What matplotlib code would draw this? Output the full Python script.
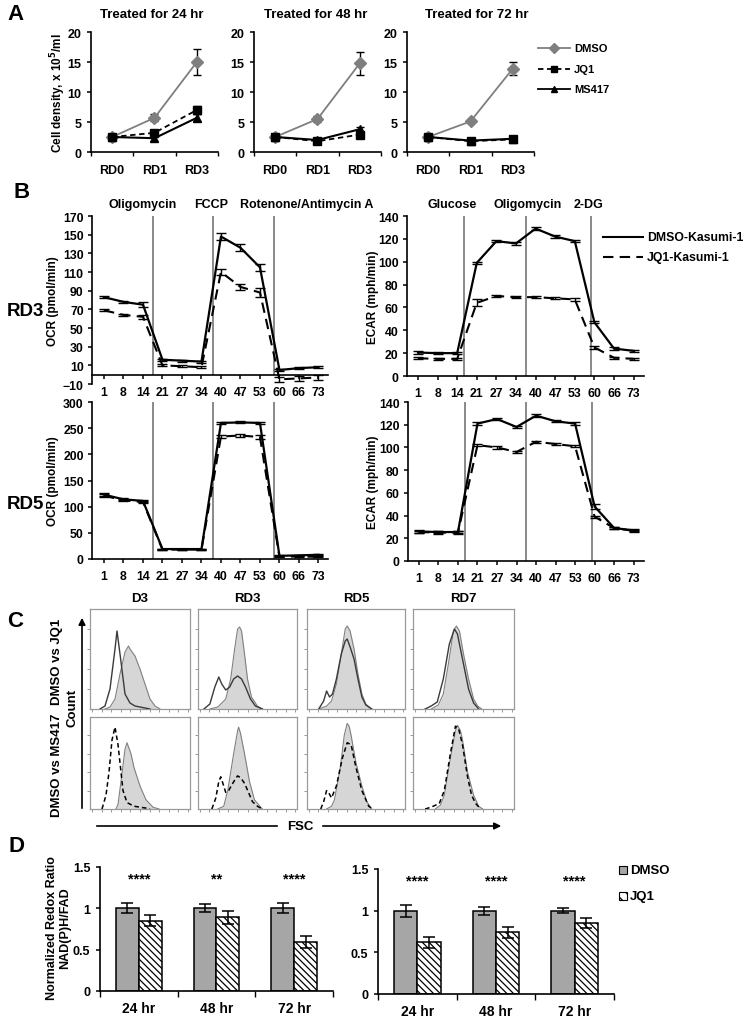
import numpy as np
import matplotlib
matplotlib.use('Agg')
import matplotlib.pyplot as plt
from matplotlib.patches import Rectangle

plt.rcParams['font.family'] = ['Liberation Sans', 'DejaVu Sans']
plt.rcParams['font.weight'] = 'bold'
plt.rcParams['hatch.linewidth'] = 0.9

W, H = 745, 1020

# ---------------- Panel A data ----------------
days = ['RD0', 'RD1', 'RD3']
a_titles = ['Treated for 24 hr', 'Treated for 48 hr', 'Treated for 72 hr']
dmso_a = [[2.5, 5.7, 15.0], [2.5, 5.5, 14.8], [2.5, 5.1, 13.9]]
dmso_a_err = [[0.3, 0.6, 2.1], [0.3, 0.5, 1.9], [0.3, 0.3, 1.1]]
jq1_a = [[2.5, 3.2, 7.0], [2.5, 1.8, 2.9], [2.5, 1.8, 2.1]]
jq1_a_err = [[0.3, 0.4, 0.6], [0.3, 0.4, 0.4], [0.3, 0.3, 0.3]]
ms417_a = [[2.5, 2.3, 5.7], [2.5, 2.0, 3.8], [2.5, 1.9, 2.2]]
ms417_a_err = [[0.3, 0.4, 0.6], [0.3, 0.3, 0.4], [0.3, 0.3, 0.3]]

# ---------------- Panel B data ----------------
times = ['1', '8', '14', '21', '27', '34', '40', '47', '53', '60', '66', '73']
ocr3_dmso = [83, 78, 75, 16, 15, 14, 148, 136, 115, 5, 7, 8]
ocr3_dmso_err = [1, 1, 3, 1, 1, 1, 4, 4, 4, 1, 1, 1]
ocr3_jq1 = [69, 64, 62, 10, 9, 8, 110, 94, 88, -5, -4, -3]
ocr3_jq1_err = [1, 1, 2, 1, 1, 1, 3, 3, 5, 3, 3, 3]
ecar3_dmso = [20.5, 20, 20, 99, 118, 116, 129, 122, 118, 47, 24, 22]
ecar3_dmso_err = [1, 1, 1, 1, 1, 1, 1, 1, 1, 1, 1, 1]
ecar3_jq1 = [15.5, 15, 15, 64, 70, 69, 69, 68, 67, 25, 16, 15]
ecar3_jq1_err = [1, 1, 1, 3, 1, 1, 1, 1, 1, 1, 1, 1]
ocr5_dmso = [123, 114, 111, 19, 19, 19, 260, 261, 260, 6, 7, 8]
ocr5_dmso_err = [3, 2, 2, 1, 1, 1, 2, 2, 2, 1, 1, 1]
ocr5_jq1 = [121, 112, 109, 18, 18, 18, 234, 236, 233, 4, 5, 4]
ocr5_jq1_err = [3, 2, 2, 1, 1, 1, 3, 2, 3, 1, 1, 1]
ecar5_dmso = [26, 25.5, 25.5, 121, 125, 118, 128, 123, 121, 48, 29, 27]
ecar5_dmso_err = [1, 1, 1, 1, 1, 1, 1, 1, 1, 2, 1, 1]
ecar5_jq1 = [25.5, 25, 25, 102, 100, 96, 105, 103, 101, 39, 29, 26.5]
ecar5_jq1_err = [1, 1, 1, 1, 1, 1, 1, 1, 1, 1, 1, 1]
ocr_inject = [2.5, 5.6, 8.7]
ecar_inject = [2.35, 5.5, 8.85]

# ---------------- Panel C data (histogram outlines, fraction of box) ----------------
c_titles = ['D3', 'RD3', 'RD5', 'RD7']
hist_dmso_top = [
    [(0.15, 0), (0.2, 0.02), (0.25, 0.1), (0.3, 0.35), (0.35, 0.57), (0.385, 0.63), (0.4, 0.6), (0.45, 0.53), (0.5, 0.4), (0.55, 0.25), (0.6, 0.1), (0.65, 0.03), (0.7, 0)],
    [(0.12, 0), (0.2, 0.02), (0.28, 0.1), (0.33, 0.3), (0.37, 0.6), (0.40, 0.8), (0.42, 0.82), (0.44, 0.78), (0.47, 0.55), (0.5, 0.3), (0.54, 0.12), (0.6, 0.03), (0.65, 0)],
    [(0.12, 0), (0.2, 0.03), (0.25, 0.08), (0.3, 0.25), (0.35, 0.55), (0.39, 0.8), (0.41, 0.83), (0.44, 0.78), (0.48, 0.6), (0.52, 0.35), (0.56, 0.15), (0.6, 0.05), (0.66, 0)],
    [(0.18, 0), (0.25, 0.04), (0.3, 0.15), (0.35, 0.45), (0.4, 0.78), (0.43, 0.83), (0.46, 0.78), (0.5, 0.55), (0.55, 0.3), (0.6, 0.1), (0.64, 0.03), (0.68, 0)],
]
hist_jq1_top = [
    [(0.1, 0), (0.15, 0.03), (0.2, 0.2), (0.25, 0.6), (0.27, 0.78), (0.3, 0.55), (0.35, 0.15), (0.4, 0.06), (0.45, 0.03), (0.5, 0.02), (0.55, 0.01), (0.6, 0)],
    [(0.06, 0), (0.12, 0.05), (0.17, 0.22), (0.21, 0.32), (0.24, 0.25), (0.28, 0.19), (0.32, 0.22), (0.36, 0.3), (0.40, 0.33), (0.44, 0.3), (0.48, 0.22), (0.53, 0.1), (0.58, 0.03), (0.65, 0)],
    [(0.12, 0), (0.17, 0.08), (0.2, 0.18), (0.23, 0.12), (0.26, 0.15), (0.3, 0.3), (0.35, 0.55), (0.39, 0.68), (0.41, 0.7), (0.44, 0.62), (0.48, 0.5), (0.52, 0.3), (0.56, 0.12), (0.6, 0.04), (0.66, 0)],
    [(0.12, 0), (0.18, 0.03), (0.24, 0.07), (0.3, 0.3), (0.36, 0.65), (0.41, 0.8), (0.44, 0.75), (0.5, 0.45), (0.55, 0.2), (0.6, 0.06), (0.65, 0)],
]
hist_dmso_bot = [
    [(0.26, 0), (0.28, 0.05), (0.31, 0.3), (0.35, 0.65), (0.37, 0.72), (0.41, 0.6), (0.44, 0.45), (0.5, 0.25), (0.56, 0.1), (0.63, 0.02), (0.69, 0)],
    [(0.2, 0), (0.26, 0.03), (0.3, 0.2), (0.36, 0.6), (0.4, 0.85), (0.41, 0.89), (0.43, 0.82), (0.47, 0.6), (0.52, 0.3), (0.57, 0.1), (0.65, 0)],
    [(0.2, 0), (0.25, 0.03), (0.28, 0.1), (0.34, 0.45), (0.38, 0.8), (0.41, 0.93), (0.43, 0.9), (0.45, 0.8), (0.5, 0.5), (0.56, 0.25), (0.61, 0.08), (0.66, 0)],
    [(0.22, 0), (0.27, 0.04), (0.31, 0.15), (0.37, 0.55), (0.42, 0.85), (0.44, 0.91), (0.47, 0.85), (0.49, 0.75), (0.54, 0.4), (0.6, 0.15), (0.65, 0.03), (0.69, 0)],
]
hist_ms417_bot = [
    [(0.12, 0), (0.16, 0.15), (0.19, 0.4), (0.22, 0.75), (0.25, 0.89), (0.28, 0.7), (0.3, 0.5), (0.33, 0.2), (0.37, 0.07), (0.44, 0.03), (0.56, 0.01), (0.6, 0)],
    [(0.14, 0), (0.18, 0.12), (0.21, 0.3), (0.23, 0.35), (0.26, 0.25), (0.28, 0.18), (0.31, 0.2), (0.34, 0.26), (0.38, 0.33), (0.4, 0.36), (0.43, 0.34), (0.47, 0.28), (0.51, 0.18), (0.55, 0.08), (0.6, 0.03), (0.65, 0)],
    [(0.14, 0), (0.17, 0.08), (0.2, 0.2), (0.22, 0.18), (0.25, 0.12), (0.3, 0.25), (0.36, 0.55), (0.41, 0.72), (0.45, 0.7), (0.5, 0.45), (0.56, 0.2), (0.63, 0.03), (0.67, 0)],
    [(0.12, 0), (0.15, 0.01), (0.2, 0.03), (0.26, 0.06), (0.31, 0.2), (0.37, 0.6), (0.42, 0.9), (0.45, 0.88), (0.49, 0.7), (0.54, 0.35), (0.58, 0.15), (0.62, 0.06), (0.67, 0)],
]

# ---------------- Panel D data ----------------
d_groups = ['24 hr', '48 hr', '72 hr']
d1_dmso = [1.0, 1.0, 1.0]
d1_dmso_err = [0.06, 0.05, 0.06]
d1_jq1 = [0.85, 0.89, 0.59]
d1_jq1_err = [0.065, 0.08, 0.07]
d1_stars = ['****', '**', '****']
d2_dmso = [1.0, 1.0, 1.0]
d2_dmso_err = [0.07, 0.05, 0.03]
d2_jq1 = [0.62, 0.74, 0.85]
d2_jq1_err = [0.07, 0.07, 0.06]
d2_stars = ['****', '****', '****']

# =====================================================
fig = plt.figure(figsize=(W / 100, H / 100), dpi=100)


def rect(x0, y0, x1, y1):
    return [x0 / W, 1 - y1 / H, (x1 - x0) / W, (y1 - y0) / H]


def basic_axes(ax, size=8.5):
    ax.spines['top'].set_visible(False)
    ax.spines['right'].set_visible(False)
    ax.spines['left'].set_linewidth(1.2)
    ax.spines['bottom'].set_linewidth(1.2)
    ax.tick_params(axis='both', labelsize=size, width=1.1, length=3, direction='out')
    for lab in ax.get_xticklabels() + ax.get_yticklabels():
        lab.set_fontweight('bold')


# ---------- Panel A ----------
a_x = [(91, 218), (254, 381), (407, 534)]
a_title_x = [152, 316, 477]
xa = np.arange(len(days))
for i in range(3):
    ax = fig.add_axes(rect(a_x[i][0], 33, a_x[i][1], 153))
    ax.errorbar(xa, dmso_a[i], yerr=dmso_a_err[i], color='#7f7f7f', marker='D', ms=6,
                lw=1.3, ecolor='black', elinewidth=1.0, capsize=3, zorder=3)
    ax.errorbar(xa, jq1_a[i], yerr=jq1_a_err[i], color='black', marker='s', ms=5.5,
                lw=1.3, ls=(0, (3, 2)), elinewidth=1.0, capsize=3, zorder=4)
    ax.errorbar(xa, ms417_a[i], yerr=ms417_a_err[i], color='black', marker='^', ms=6,
                lw=1.5, elinewidth=1.0, capsize=3, zorder=5)
    ax.set_xlim(-0.5, 2.5)
    ax.set_ylim(0, 20)
    ax.set_yticks([0, 5, 10, 15, 20])
    ax.set_xticks(xa)
    ax.set_xticklabels(days)
    ax.set_xticks([-0.5, 0.5, 1.5, 2.5], minor=True)
    basic_axes(ax, 9)
    ax.tick_params(axis='x', which='major', length=0, pad=9)
    ax.tick_params(axis='x', which='minor', length=3, width=1.0)
    ax.tick_params(axis='y', pad=4)

# ---------- Panel B ----------
xb = np.arange(len(times))


def seahorse(box, xl, ylim, yticks, d, de, j, je, inject, zero_spine=False):
    ax = fig.add_axes(rect(*box))
    ax.errorbar(xb, d, yerr=de, color='black', lw=1.6, elinewidth=1.0, capsize=3.5, zorder=4)
    ax.errorbar(xb, j, yerr=je, color='black', lw=1.5, ls=(0, (5, 3)), elinewidth=1.0,
                capsize=3.5, zorder=3)
    ax.set_xlim(*xl)
    ax.set_ylim(*ylim)
    ax.vlines(inject, max(0, ylim[0]), ylim[1], color='#808080', lw=1.3, zorder=2)
    ax.set_yticks(yticks)
    ax.set_xticks(xb)
    ax.set_xticklabels(times)
    if zero_spine:
        ax.spines['bottom'].set_position(('data', 0))
    basic_axes(ax, 8.8)
    ax.tick_params(axis='x', pad=5)
    ax.tick_params(axis='y', pad=3)
    return ax


seahorse((92, 217, 328, 385), (-0.615, 11.49), (-10, 170), list(range(-10, 171, 20)),
         ocr3_dmso, ocr3_dmso_err, ocr3_jq1, ocr3_jq1_err, ocr_inject, zero_spine=True)
seahorse((407, 217, 644, 377), (-0.56, 11.53), (0, 140), list(range(0, 141, 20)),
         ecar3_dmso, ecar3_dmso_err, ecar3_jq1, ecar3_jq1_err, ecar_inject)
seahorse((92, 403, 328, 560), (-0.615, 11.49), (0, 300), list(range(0, 301, 50)),
         ocr5_dmso, ocr5_dmso_err, ocr5_jq1, ocr5_jq1_err, ocr_inject)
seahorse((408, 403, 644, 562), (-0.56, 11.53), (0, 140), list(range(0, 141, 20)),
         ecar5_dmso, ecar5_dmso_err, ecar5_jq1, ecar5_jq1_err, ecar_inject)

# ---------- Panel C ----------
c_cols = [(90, 190), (198, 297), (307, 405), (413, 514)]
rows = [(610, 710), (718, 810)]
for ci in range(4):
    for ri in range(2):
        ax = fig.add_axes(rect(c_cols[ci][0], rows[ri][0], c_cols[ci][1], rows[ri][1]))
        ctrl = hist_dmso_top[ci] if ri == 0 else hist_dmso_bot[ci]
        trt = hist_jq1_top[ci] if ri == 0 else hist_ms417_bot[ci]
        cx = [p[0] for p in ctrl]
        cy = [p[1] for p in ctrl]
        ax.fill_between(cx, 0, cy, color='#d6d6d6', lw=0, zorder=2)
        ax.plot(cx, cy, color='#808080', lw=0.8, zorder=3)
        tx = [p[0] for p in trt]
        ty = [p[1] for p in trt]
        if ri == 0:
            ax.plot(tx, ty, color='#3a3a3a', lw=1.0, zorder=4)
        else:
            ax.plot(tx, ty, color='black', lw=1.1, ls=(0, (3, 2)), zorder=4)
        ax.set_xlim(0, 1)
        ax.set_ylim(0, 1)
        for s in ax.spines.values():
            s.set_color('#9a9a9a')
            s.set_linewidth(0.9)
        ax.set_xticks(np.linspace(0.02, 0.98, 11))
        ax.set_yticks([0.2, 0.4, 0.6, 0.8])
        ax.tick_params(length=2, width=0.6, color='#888888', labelleft=False, labelbottom=False)

# ---------- Panel D ----------
xd = np.arange(len(d_groups))
bw = 0.296


def redox(box, dm, dme, jq, jqe, stars):
    ax = fig.add_axes(rect(*box))
    ax.bar(xd - bw / 2, dm, bw, color='#a6a6a6', edgecolor='black', lw=1.1, zorder=2)
    ax.bar(xd + bw / 2, jq, bw, color='white', edgecolor='black', lw=1.1, hatch='\\\\\\\\\\',
           zorder=2)
    ax.errorbar(xd - bw / 2, dm, yerr=dme, fmt='none', ecolor='black', elinewidth=1.1,
                capsize=4, capthick=1.1, zorder=3)
    ax.errorbar(xd + bw / 2, jq, yerr=jqe, fmt='none', ecolor='black', elinewidth=1.1,
                capsize=4, capthick=1.1, zorder=3)
    for k in range(len(xd)):
        ax.text(xd[k], 1.36, stars[k], ha='center', va='center', fontsize=10.5, fontweight='bold')
    ax.set_xlim(-0.5, 2.5)
    ax.set_ylim(0, 1.5)
    ax.set_yticks([0, 0.5, 1, 1.5])
    ax.set_yticklabels(['0', '0.5', '1', '1.5'])
    ax.set_xticks(xd)
    ax.set_xticklabels(d_groups)
    ax.set_xticks([-0.5, 0.5, 1.5, 2.5], minor=True)
    basic_axes(ax)
    ax.tick_params(axis='x', which='major', length=0, pad=7, labelsize=10)
    ax.tick_params(axis='x', which='minor', length=4, width=1.0)
    ax.tick_params(axis='y', labelsize=9, pad=4)
    return ax


redox((100, 868, 333, 992), d1_dmso, d1_dmso_err, d1_jq1, d1_jq1_err, d1_stars)
redox((378, 870, 614, 995), d2_dmso, d2_dmso_err, d2_jq1, d2_jq1_err, d2_stars)

# ---------- Overlay (pixel coordinates) ----------
ov = fig.add_axes([0, 0, 1, 1], zorder=10)
ov.set_xlim(0, W)
ov.set_ylim(H, 0)
ov.axis('off')

for lab, (x, y) in zip('ABCD', [(15, 15), (22, 193), (15, 622), (17, 847)]):
    ov.text(x, y, lab, fontsize=16, fontweight='bold', ha='center', va='center')

# Panel A texts
for i in range(3):
    ov.text(a_title_x[i], 15, a_titles[i], fontsize=9.5, fontweight='bold',
            ha='center', va='center')
ov.text(58, 93, 'Cell density, x 10$^{\\mathbf{5}}$/ml', rotation=90, fontsize=8.5,
        fontweight='bold', ha='center', va='center')
leg_a = [('DMSO', '#7f7f7f', 'D', '-', 49), ('JQ1', 'black', 's', (0, (3, 2)), 70),
         ('MS417', 'black', '^', '-', 90)]
for name, col, mk, ls, y in leg_a:
    ov.plot([538, 570], [y, y], color=col, ls=ls, lw=1.3)
    ov.plot([554], [y], color=col, marker=mk, ms=5)
    ov.text(574, y, name, fontsize=8, fontweight='bold', ha='left', va='center')

# Panel B texts
for txt, x in [('Oligomycin', 143), ('FCCP', 211), ('Rotenone/Antimycin A', 307)]:
    ov.text(x, 205, txt, fontsize=9, fontweight='bold', ha='center', va='center')
gl = ov.text(452, 205, 'Glucose', fontsize=9, fontweight='bold', ha='center', va='center')
gl.set_clip_path(Rectangle((0, 0), 461, H, transform=ov.transData))
for txt, x in [('Oligomycin', 528), ('2-DG', 588)]:
    ov.text(x, 205, txt, fontsize=9, fontweight='bold', ha='center', va='center')
for x, y, txt in [(53, 301, 'OCR (pmol/min)'), (53, 481, 'OCR (pmol/min)'),
                  (373, 297, 'ECAR (mph/min)'), (373, 482, 'ECAR (mph/min)')]:
    ov.text(x, y, txt, rotation=90, fontsize=8.5, fontweight='bold', ha='center', va='center')
ov.text(25, 312, 'RD3', fontsize=13.5, fontweight='bold', ha='center', va='center')
ov.text(25, 505, 'RD5', fontsize=13.5, fontweight='bold', ha='center', va='center')
ov.plot([603, 643], [238, 238], color='black', lw=1.5)
ov.plot([603, 643], [258, 258], color='black', lw=1.5, ls=(0, (5, 3)))
ov.text(647, 238, 'DMSO-Kasumi-1', fontsize=8.8, fontweight='bold', ha='left', va='center')
ov.text(647, 258, 'JQ1-Kasumi-1', fontsize=8.8, fontweight='bold', ha='left', va='center')

# Panel C texts
for ci in range(4):
    ov.text((c_cols[ci][0] + c_cols[ci][1]) / 2, 599, c_titles[ci], fontsize=9.5,
            fontweight='bold', ha='center', va='center')
ov.text(57, 662, 'DMSO vs JQ1', rotation=90, fontsize=9.5, fontweight='bold', ha='center', va='center')
ov.text(57, 765, 'DMSO vs MS417', rotation=90, fontsize=9.5, fontweight='bold', ha='center', va='center')
ov.text(73, 708, 'Count', rotation=90, fontsize=9.5, fontweight='bold', ha='center', va='center')
ov.annotate('', xy=(82, 616), xytext=(82, 812),
            arrowprops=dict(arrowstyle='-|>', color='black', lw=1.2, mutation_scale=10))
ov.plot([97, 277], [827, 827], color='black', lw=1.2)
ov.text(300, 827, 'FSC', fontsize=9.5, fontweight='bold', ha='center', va='center')
ov.annotate('', xy=(504, 827), xytext=(320, 827),
            arrowprops=dict(arrowstyle='-|>', color='black', lw=1.2, mutation_scale=10))

# Panel D texts
ov.text(52, 928, 'Normalized Redox Ratio', rotation=90, fontsize=9, fontweight='bold',
        ha='center', va='center')
ov.text(65, 928, 'NAD(P)H/FAD', rotation=90, fontsize=9, fontweight='bold', ha='center', va='center')
ov.add_patch(Rectangle((619, 867), 8, 8, facecolor='#a6a6a6', edgecolor='black', lw=0.8))
ov.add_patch(Rectangle((619, 893), 8, 8, facecolor='white', edgecolor='black', lw=0.8, hatch='\\\\\\'))
ov.text(630, 871, 'DMSO', fontsize=9.5, fontweight='bold', ha='left', va='center')
ov.text(630, 897, 'JQ1', fontsize=9.5, fontweight='bold', ha='left', va='center')

fig.savefig('out.png', dpi=100)
